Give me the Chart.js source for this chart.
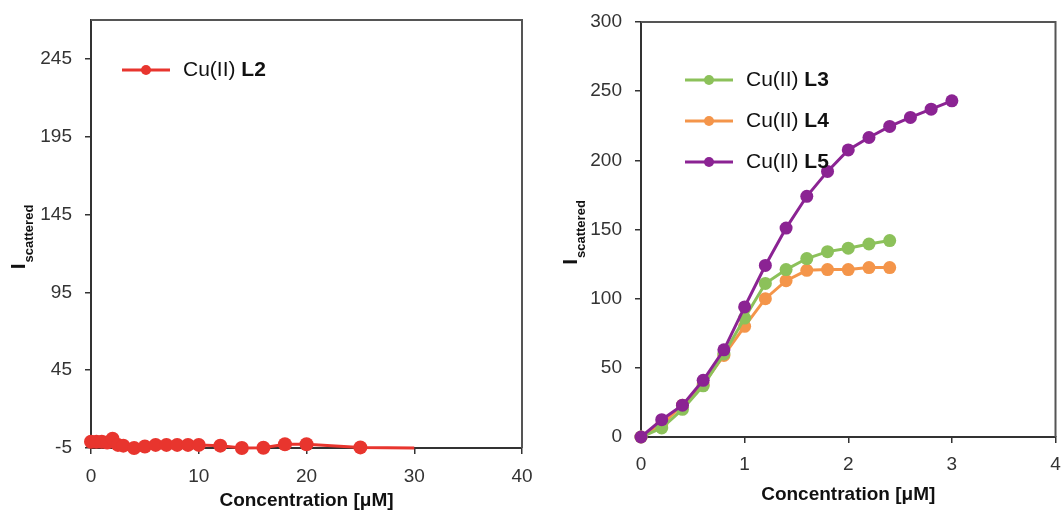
<!DOCTYPE html>
<html lang="en">
<head>
<meta charset="UTF-8">
<title>Scattered intensity vs. Cu(II) concentration</title>
<script src="https://cdn.jsdelivr.net/npm/chart.js"></script>
<style>
  body { margin: 0; background: #fff; }
  .panel { position: absolute; top: 0; height: 514px; }
  #left { left: 0; width: 550px; }
  #right { left: 531px; width: 531px; }
</style>
</head>
<body>
<div class="panel" id="left"><canvas id="chartL2"></canvas></div>
<div class="panel" id="right"><canvas id="chartL345"></canvas></div>

<script>
// left panel: Cu(II) L2
const l2Conc = [0, 0.5, 1, 1.5, 2, 2.5, 3, 4, 5, 6, 7, 8, 9, 10, 12, 14, 16, 18, 20, 25, 30];
const l2Int  = [-1, -1, -1, -1.5, 1, -3, -3.5, -5, -4, -3, -3, -3, -3, -3, -3.5, -5, -4.8, -2.6, -2.6, -4.6, -5];
const l2YTicks = [-5, 45, 95, 145, 195, 245];

// right panel: Cu(II) L3 / L4 / L5
const concR = [0, 0.2, 0.4, 0.6, 0.8, 1.0, 1.2, 1.4, 1.6, 1.8, 2.0, 2.2, 2.4, 2.6, 2.8, 3.0];
const l3Int = [0, 6.5, 20, 37, 60, 86, 111, 121, 129, 134, 136.5, 139.5, 142];
const l4Int = [0, 9, 23, 38, 59, 80, 100, 113, 120.5, 121, 121, 122.5, 122.5];
const l5Int = [0, 12.5, 23, 41, 63, 94, 124, 151, 174, 192, 207.5, 216.5, 224.5, 231, 237, 243];

const legendPrefix = 'Cu(II) ';
const FONT = '"Liberation Sans", Arial, sans-serif';

function pairs(xs, ys) {
    return ys.map((y, i) => ({ x: xs[i], y: y }));
}

// closes the box on the top and right sides
const framePlugin = {
    id: 'frame',
    afterDraw(chart) {
        const { ctx, chartArea: a } = chart;
        ctx.save();
        ctx.strokeStyle = '#555';
        ctx.lineWidth = 2;
        ctx.beginPath();
        ctx.moveTo(a.left, a.top);
        ctx.lineTo(a.right, a.top);
        ctx.lineTo(a.right, a.bottom);
        ctx.stroke();
        ctx.restore();
    }
};

// rotated y title: "I" with a "scattered" subscript
const yTitlePlugin = {
    id: 'yTitle',
    afterDraw(chart, args, opts) {
        const { ctx, chartArea: a } = chart;
        const x = a.left - opts.dx;
        const cy = (a.top + a.bottom) / 2 + 3;
        ctx.save();
        ctx.fillStyle = '#111';
        ctx.font = 'bold 21px ' + FONT;
        const wI = ctx.measureText('I').width;
        ctx.font = 'bold 13px ' + FONT;
        const wS = ctx.measureText('scattered').width;
        ctx.translate(x, cy + (wI + wS + 1) / 2);
        ctx.rotate(-Math.PI / 2);
        ctx.textBaseline = 'alphabetic';
        ctx.font = 'bold 21px ' + FONT;
        ctx.fillText('I', 0, 0);
        ctx.font = 'bold 13px ' + FONT;
        ctx.fillText('scattered', wI + 1, 8);
        ctx.restore();
    }
};

// legend with regular "Cu(II)" and bold ligand name
const legendPlugin = {
    id: 'mixedLegend',
    afterDraw(chart, args, opts) {
        const ctx = chart.ctx;
        ctx.save();
        chart.data.datasets.forEach((ds, i) => {
            const y = opts.y + i * opts.gap;
            const x = opts.x;
            ctx.strokeStyle = ds.borderColor;
            ctx.lineWidth = 3;
            ctx.beginPath();
            ctx.moveTo(x, y);
            ctx.lineTo(x + 48, y);
            ctx.stroke();
            ctx.fillStyle = ds.borderColor;
            ctx.beginPath();
            ctx.arc(x + 24, y, 5, 0, Math.PI * 2);
            ctx.fill();
            ctx.fillStyle = '#111';
            ctx.textBaseline = 'middle';
            ctx.font = '21px ' + FONT;
            ctx.fillText(legendPrefix, x + 61, y);
            const w = ctx.measureText(legendPrefix).width;
            ctx.font = 'bold 21px ' + FONT;
            ctx.fillText(ds.label, x + 61 + w, y);
        });
        ctx.restore();
    }
};

function series(label, xs, ys, color, order) {
    return {
        label: label,
        data: pairs(xs, ys),
        order: order,
        borderColor: color,
        backgroundColor: color,
        borderWidth: 3,
        pointRadius: 6.5,
        pointHoverRadius: 6.5,
        pointBorderWidth: 0,
        tension: 0,
        clip: false
    };
}

function axisX(max, padTop, titlePad, height) {
    return {
        type: 'linear',
        min: 0,
        max: max,
        ticks: { stepSize: max / 4, color: '#333', padding: padTop, font: { family: FONT, size: 19 } },
        grid: { display: true, drawOnChartArea: false, color: '#333', lineWidth: 1.5, tickLength: 6 },
        border: { display: true, color: '#333', width: 2 },
        title: {
            display: true,
            text: 'Concentration [μM]',
            color: '#111',
            font: { family: FONT, size: 19, weight: 'bold' },
            padding: { top: 0, bottom: titlePad }
        },
        afterFit(scale) {
            scale.height = height;
            scale.paddingLeft = 0;
            scale.paddingRight = 0;
        }
    };
}

function axisY(min, max, step, width, pad) {
    return {
        min: min,
        max: max,
        ticks: { stepSize: step, color: '#333', padding: pad, font: { family: FONT, size: 19 } },
        grid: { display: true, drawOnChartArea: false, color: '#333', lineWidth: 1.5, tickLength: 6 },
        border: { display: true, color: '#333', width: 2 },
        afterFit(scale) {
            scale.width = width;
            scale.paddingTop = 0;
            scale.paddingBottom = 0;
        }
    };
}

const baseOptions = {
    responsive: true,
    maintainAspectRatio: false,
    animation: false,
    events: []
};

// left chart
const yL = axisY(-5, 270, 50, 91, 13);
yL.afterBuildTicks = scale => {
    scale.ticks = l2YTicks.map(v => ({ value: v }));
};

const l2Set = series('L2', l2Conc, l2Int, '#E8352E', 0);
l2Set.pointRadius = c => (c.dataIndex < l2Conc.length - 1 ? 7 : 0);

new Chart(document.getElementById('chartL2'), {
    type: 'line',
    data: { datasets: [l2Set] },
    options: Object.assign({}, baseOptions, {
        layout: { padding: { top: 20, right: 28, left: 0, bottom: 0 } },
        scales: { x: axisX(40, 11, 2, 66), y: yL },
        plugins: {
            legend: { display: false },
            tooltip: { enabled: false },
            mixedLegend: { x: 122, y: 70, gap: 0 },
            yTitle: { dx: 66 }
        }
    }),
    plugins: [framePlugin, yTitlePlugin, legendPlugin]
});

// right chart (L5 on top, L4 underneath)
new Chart(document.getElementById('chartL345'), {
    type: 'line',
    data: {
        datasets: [
            series('L3', concR, l3Int, '#8CC15A', 2),
            series('L4', concR, l4Int, '#F4954A', 3),
            series('L5', concR, l5Int, '#8B2393', 1)
        ]
    },
    options: Object.assign({}, baseOptions, {
        layout: { padding: { top: 22, right: 5, left: 0, bottom: 0 } },
        scales: { x: axisX(4, 10, 8, 77), y: axisY(0, 300, 50, 110, 13) },
        plugins: {
            legend: { display: false },
            tooltip: { enabled: false },
            mixedLegend: { x: 154, y: 80, gap: 41 },
            yTitle: { dx: 64 }
        }
    }),
    plugins: [framePlugin, yTitlePlugin, legendPlugin]
});
</script>
</body>
</html>
